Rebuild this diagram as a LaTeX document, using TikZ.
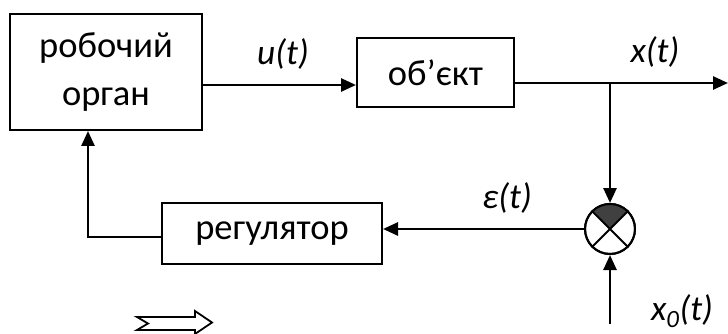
\documentclass[tikz,border=0pt]{standalone}
\usepackage{fontspec}
\setmainfont{Carlito}
\usetikzlibrary{arrows.meta}
\definecolor{sectorgray}{HTML}{404040}
\tikzset{
  blockbox/.style={draw, line width=2pt, inner sep=0pt, align=center, font=\fontsize{36.5}{48}\selectfont},
  conn/.style={line width=2.6pt},
  arr/.style={conn, -{Triangle[length=15pt,width=13pt]}},
  sig/.style={font=\fontsize{35.5}{40}\selectfont\itshape, inner sep=0pt},
}
\begin{document}
\begin{tikzpicture}[x=1pt,y=-1pt]
\useasboundingbox (0,0) rectangle (728,334);
% blocks
\node[blockbox, minimum width=192pt, minimum height=116pt] (robo) at (106,72) {робочий\\орган};
\node[blockbox, minimum width=157pt, minimum height=69pt] (obj) at (435.5,72.5) {об’єкт};
\node[blockbox, minimum width=220pt, minimum height=61pt] (reg) at (272,233.5) {регулятор};
\node[draw, circle, line width=2pt, minimum size=50pt, inner sep=0pt] (sum) at (610,229) {};
% comparator sector and cross
\fill[sectorgray] (sum.center) -- (sum.45) arc[start angle=45, end angle=135, radius=25pt] -- cycle;
\draw[line width=2pt] (sum.45) -- (sum.225) (sum.135) -- (sum.315);
\draw[line width=2pt] (sum) circle[radius=25pt];
% helper coordinates
\coordinate (uy) at (0,85);
\coordinate (xy) at (0,83);
\coordinate (fby) at (0,237);
\coordinate (branch) at (610,83);
\coordinate (xout) at (728,83);
\coordinate (x0in) at (610,324);
\coordinate (fbcorner) at (88,237);
% connectors
\draw[arr] (robo.east |- uy) -- (obj.west |- uy);
\draw[arr] (obj.east |- xy) -- (xout);
\draw[arr] (branch) -- (sum.north);
\draw[arr] (x0in) -- (sum.south);
\draw[arr] (sum.west) -- (reg.east |- sum.west);
\draw[arr] (reg.west |- fby) -- (fbcorner) -- (fbcorner |- robo.south);
% labels
\node[sig] (ul) at (283,54) {u(t)};
\node[sig] (xl) at (655,52) {x(t)};
\node[sig] (el) at (507,198) {ε(t)};
\node[sig] (x0l) at (682,311) {x\textsubscript{0}(t)};
% hollow arrow
\draw[line width=1.8pt, line join=miter] (137,317) -- (195,317) -- (195,311) -- (212,322.5) -- (195,334) -- (195,330) -- (137,330) -- (148,323.5) -- cycle;
\end{tikzpicture}
\end{document}
